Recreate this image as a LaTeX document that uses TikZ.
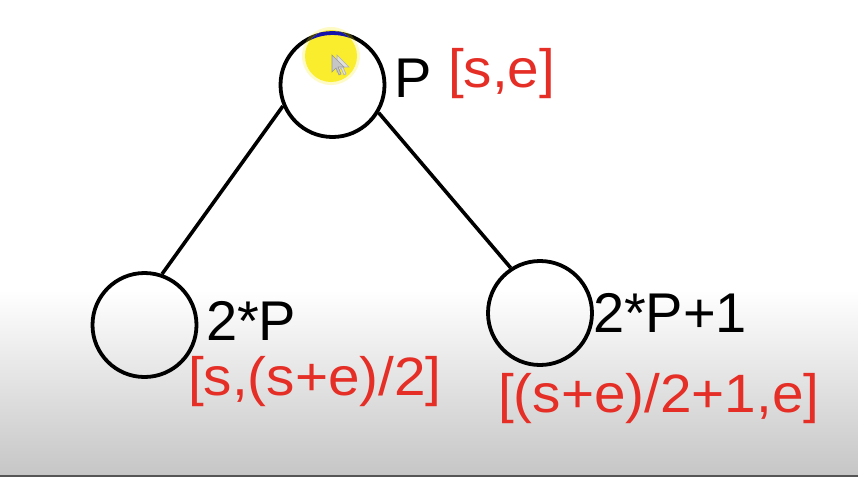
\documentclass[tikz,border=0pt]{standalone}
\usepackage{fontspec}
\setmainfont{Liberation Sans}
\newfontfamily\widesans[FakeStretch=1.05]{Liberation Sans}
\usetikzlibrary{calc}
\definecolor{rangered}{RGB}{228,46,38}
\definecolor{marker}{RGB}{250,236,30}
\definecolor{arcblue}{RGB}{20,20,170}
\definecolor{floorgray}{RGB}{198,198,198}
\definecolor{edgegray}{RGB}{85,85,85}
\tikzset{
  treenode/.style={circle, draw=black, line width=3.8pt, minimum size=104pt, inner sep=0pt},
  treeedge/.style={draw=black, line width=3.6pt},
  idxlabel/.style={anchor=base west, inner sep=0pt, outer sep=0pt, text=black,
              font=\fontsize{56}{60}\selectfont},
  rangelabel/.style={anchor=base west, inner sep=0pt, outer sep=0pt, text=rangered,
                font=\widesans\fontsize{54}{58}\selectfont},
}
\begin{document}
\begin{tikzpicture}[x=1pt, y=-1pt]
  % canvas and the grey band along the bottom
  \useasboundingbox (0,0) rectangle (858,477);
  \fill[white] (0,0) rectangle (858,477);
  \shade[top color=white, bottom color=floorgray] (0,290) rectangle (858,475);
  \fill[edgegray] (0,475) rectangle (858,477);

  % tree nodes
  \node[treenode] (top)   at (332.5,85)  {};
  \node[treenode] (left)  at (144.5,325) {};
  \node[treenode] (right) at (540,313)   {};

  % edges
  \draw[treeedge] (top.203) -- (left.71);
  \draw[treeedge] (top.329) -- (right.123);

  % labels
  \node[idxlabel]   (pl)  at (394,97)  {P};
  \node[rangelabel] (pr)  at (448,87)  {[s,e]};
  \node[idxlabel]   (ll)  at (206,340) {2*P};
  \node[rangelabel] (lr)  at (188,395) {[s,(s+e)/2]};
  \node[idxlabel]   (rl)  at (593,332) {2*P+1};
  \node[rangelabel] (rr)  at (498,412) {[(s+e)/2+1,e]};

  % pointer highlight on the root
  \fill[marker, opacity=0.25] (331,56) circle (29);
  \fill[marker, opacity=0.9] (331,56) circle (26);
  \begin{scope}
    \clip (331,56) circle (26);
    \draw[arcblue, line width=3.8pt] (top.center) circle (52);
  \end{scope}
  \coordinate (tipA) at (332,55);
  \coordinate (tipB) at (337,55);
  \draw[gray!60, fill=gray!25, line width=0.6pt]
    (tipB) -- ++(0,17) -- ++(4,-4) -- ++(3,7) -- ++(2,-1) -- ++(-3,-7) -- ++(6,0) -- cycle;
  \draw[gray!80, fill=gray!45, line width=0.6pt]
    (tipA) -- ++(0,17) -- ++(4,-4) -- ++(3,7) -- ++(2,-1) -- ++(-3,-7) -- ++(6,0) -- cycle;
\end{tikzpicture}
\end{document}
